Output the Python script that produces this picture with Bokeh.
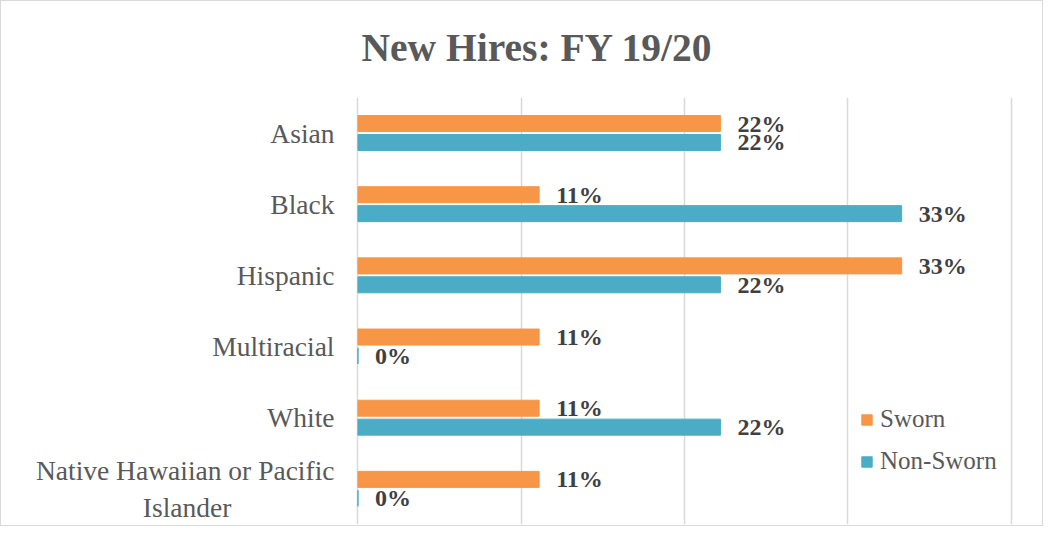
from bokeh.plotting import figure
from bokeh.models import ColumnDataSource, FactorRange, Range1d, FixedTicker, Legend, LegendItem, Title
from bokeh.transform import dodge
from bokeh.core.properties import value
from bokeh.embed import file_html
from bokeh.resources import INLINE

NBSP = "\u00a0"
# category labels (second line of the last one padded so it sits centred under the first)
categories = ["Asian", "Black", "Hispanic", "Multiracial", "White",
              "Native Hawaiian or Pacific\nIslander" + NBSP * 15]
sworn = [0.222, 0.111, 0.333, 0.111, 0.111, 0.111]
non_sworn = [0.222, 0.333, 0.222, 0.0, 0.222, 0.0]
grid_ticks = [0.0, 0.1, 0.2, 0.3, 0.4]

ORANGE = "#F79646"
TEAL = "#4BACC6"
FONT = "Liberation Serif"
GRAY = "#595959"

src = ColumnDataSource(dict(
    cat=categories,
    sworn=sworn,
    non_sworn=non_sworn,
    sworn_lbl=[f"{round(v*100)}%" for v in sworn],
    non_sworn_lbl=[f"{round(v*100)}%" for v in non_sworn],
))

factors = list(reversed(categories))
p = figure(width=1043, height=526, output_backend="svg", toolbar_location=None,
           y_range=FactorRange(factors=factors, range_padding=0),
           x_range=Range1d(-0.0015, 0.4015),
           min_border_left=354, min_border_right=31, min_border_top=96, min_border_bottom=3)
p.styles = {"border": "1px solid #d9d9d9"}

p.title.text = "New Hires: FY 19/20"
p.title.text_font = FONT
p.title.text_font_size = "39.5px"
p.title.text_font_style = "bold"
p.title.text_color = GRAY
p.title.align = "left"
p.title.offset = 6
p.title.standoff = 38

# small spacer between the title and the plot area
p.add_layout(Title(text=NBSP, text_font_size="1px", standoff=6), "above")

r1 = p.hbar(y=dodge("cat", 0.134, range=p.y_range), right="sworn", left=0, height=0.225,
            source=src, fill_color=ORANGE, line_color=ORANGE)
r2 = p.hbar(y=dodge("cat", -0.132, range=p.y_range), right="non_sworn", left=0, height=0.225,
            source=src, fill_color=TEAL, line_color=TEAL)

for col, lbl, off in (("sworn", "sworn_lbl", 0.134), ("non_sworn", "non_sworn_lbl", -0.132)):
    p.text(x=col, y=dodge("cat", off, range=p.y_range), text=lbl, source=src,
           x_offset=17, text_baseline="middle", text_align="left",
           text_font=value(FONT), text_font_size="24px", text_font_style="bold",
           text_color="#404040")

p.xaxis.visible = False
p.xgrid.ticker = FixedTicker(ticks=grid_ticks)
p.xgrid.grid_line_color = "#d9d9d9"
p.xgrid.grid_line_width = 1.5
p.ygrid.visible = False
p.outline_line_color = None

p.yaxis.axis_line_color = None
p.yaxis.major_tick_line_color = None
p.yaxis.minor_tick_line_color = None
p.yaxis.major_tick_out = 0
p.yaxis.major_tick_in = 0
p.yaxis.major_label_standoff = 21
p.yaxis.major_label_text_font = FONT
p.yaxis.major_label_text_font_size = "27.5px"
p.yaxis.major_label_text_color = GRAY

legend = Legend(items=[LegendItem(label="Sworn", renderers=[r1]),
                       LegendItem(label="Non-Sworn", renderers=[r2])],
                location=(505, 49), glyph_width=13, glyph_height=13,
                label_standoff=7, spacing=14, padding=0, margin=0,
                label_text_font=FONT, label_text_font_size="25px",
                label_text_color=GRAY,
                border_line_alpha=0, background_fill_alpha=0)
p.add_layout(legend, "center")

open("out.html", "w").write(file_html(p, INLINE))
